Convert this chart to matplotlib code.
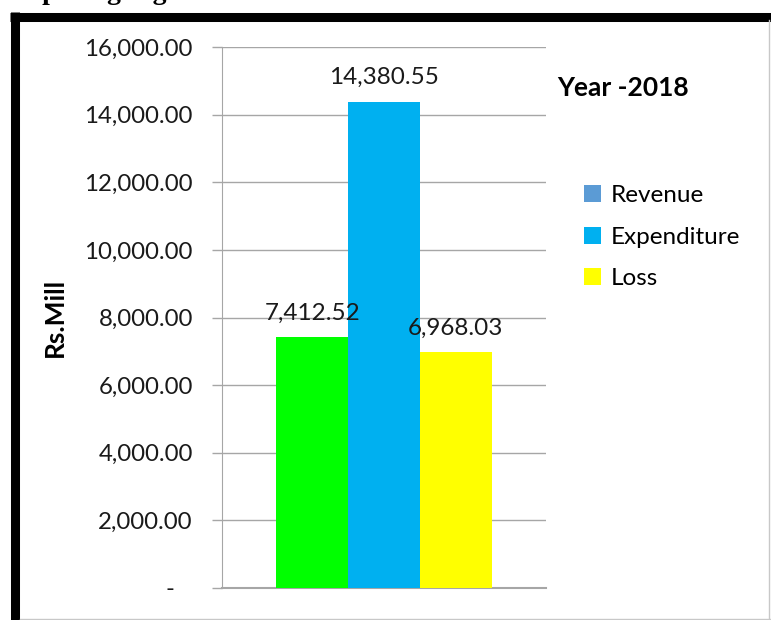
import matplotlib.pyplot as plt
from matplotlib.patches import Patch
from matplotlib.lines import Line2D

# data
series = ["Revenue", "Expenditure", "Loss"]
values = [7412.52, 14380.55, 6968.03]
bar_colors = ["#00FF00", "#00B0F0", "#FFFF00"]
legend_colors = ["#5B9BD5", "#00B0F0", "#FFFF00"]
yticks = [0, 2000, 4000, 6000, 8000, 10000, 12000, 14000, 16000]
ytick_labels = ["-   "] + [f"{v:,.2f}" for v in yticks[1:]]

plt.rcParams["font.family"] = ["Lato", "DejaVu Sans"]

fig = plt.figure(figsize=(7.71, 6.2), dpi=100)
ax = fig.add_axes([222 / 771, 1 - 588 / 620, (546 - 222) / 771, (588 - 47) / 620])

pos = [-1, 0, 1]
ax.bar(pos, values, width=1.0, color=bar_colors, zorder=3)
for x, v in zip(pos, values):
    ax.annotate(f"{v:,.2f}", (x, v), xytext=(0, 10), textcoords="offset points",
                ha="center", va="bottom", fontsize=17.5, color="#1a1a1a", zorder=4)

ax.set_xlim(-2.26, 2.26)
ax.set_ylim(0, 16000)
ax.set_yticks(yticks)
ax.set_yticklabels(ytick_labels, fontsize=17.3, color="#1a1a1a")
ax.set_xticks([])
ax.yaxis.grid(True, color="#A6A6A6", linewidth=1.0, zorder=0)
ax.tick_params(axis="y", length=7, width=1.0, color="#A6A6A6", pad=14)
for s in ["top", "right"]:
    ax.spines[s].set_visible(False)
ax.spines["left"].set_color("#A6A6A6")
ax.spines["bottom"].set_color("#A6A6A6")
ax.spines["bottom"].set_linewidth(1.5)

ax.set_ylabel("Rs.Mill", fontsize=19, fontweight="bold")
ax.yaxis.set_label_coords(-0.478, 0.5)

handles = [Patch(facecolor=c, edgecolor="none") for c in legend_colors]
fig.legend(handles, series, loc="upper left", bbox_to_anchor=(562 / 771, 1 - 163 / 620),
           frameon=False, fontsize=17.5, handlelength=0.7, handleheight=0.7,
           handletextpad=0.4, labelspacing=0.85)
fig.text(557 / 771, 1 - 88 / 620, "Year -2018", fontsize=19, fontweight="bold",
         va="center", ha="left")

# page frame and the clipped caption above it
fig.text(-0.02, 1.012, "Comparing Figures", fontsize=20, fontweight="bold",
         family="Liberation Serif", va="center", ha="left")
fig.add_artist(Line2D([14.5 / 771, 14.5 / 771], [0, 1 - 12 / 620], color="black",
                      linewidth=6.5, solid_capstyle="butt", transform=fig.transFigure))
fig.add_artist(Line2D([10 / 771, 1], [1 - 16.5 / 620, 1 - 16.5 / 620], color="black",
                      linewidth=6.5, solid_capstyle="butt", transform=fig.transFigure))
fig.add_artist(Line2D([769 / 771, 769 / 771], [0, 1 - 20 / 620], color="#C8C8C8",
                      linewidth=1, transform=fig.transFigure))
fig.add_artist(Line2D([20 / 771, 1], [1.5 / 620, 1.5 / 620], color="#C8C8C8",
                      linewidth=1, transform=fig.transFigure))

fig.savefig("out.png", dpi=100)
